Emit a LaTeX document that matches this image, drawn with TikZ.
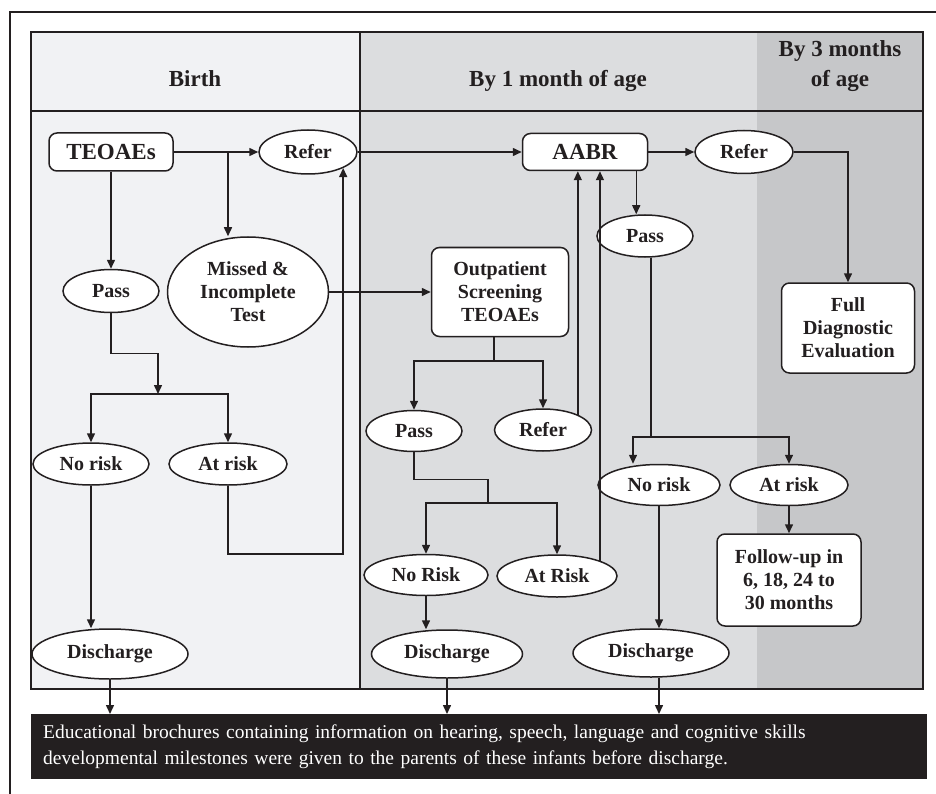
\documentclass[tikz,border=0pt]{standalone}
\usepackage{fontspec}
\setmainfont{Liberation Serif}
\usetikzlibrary{arrows.meta}
\usetikzlibrary{shapes}
\usetikzlibrary{positioning}

\definecolor{ink}{RGB}{35,31,32}
\definecolor{birthgray}{RGB}{241,242,244}
\definecolor{monthgray}{RGB}{220,221,223}
\definecolor{threegray}{RGB}{198,199,201}

\begin{document}
\begin{tikzpicture}[x=1pt,y=-1pt,
        every node/.style={font=\fontsize{20}{23}\selectfont\bfseries,text=ink,align=center,inner sep=0pt},
        oval/.style={draw=ink,fill=white,ellipse,line width=1.5pt},
        box/.style={draw=ink,fill=white,rounded corners=8pt,line width=1.5pt},
        head/.style={font=\fontsize{23}{30}\selectfont\bfseries},
        link/.style={draw=ink,line width=1.5pt,-{Triangle[length=9pt,width=8pt]}},
        wire/.style={draw=ink,line width=1.5pt},
        rule/.style={draw=ink,line width=1.1pt}]

    \useasboundingbox (0,0) rectangle (936,794);

    % columns
    \fill[birthgray] (31,32) rectangle (360,689);
    \fill[monthgray] (360,32) rectangle (757,689);
    \fill[threegray] (757,32) rectangle (923,689);
    \draw[rule] (31,32) rectangle (923,689);
    \draw[rule] (31,111) -- (923,111);
    \draw[rule] (360,32) -- (360,689);
    \draw[ink,line width=1.8pt] (10,794) -- (10,12) -- (936,12);

    \node[head,anchor=base] (birth) at (195,87) {Birth};
    \node[head,anchor=base] (month1) at (558,87) {By 1 month of age};
    \node[head] (month3) at (840,66) {By 3 months\\of age};

    % birth
    \node[box,head,minimum width=124pt,minimum height=38pt] (teoae) at (111,152) {TEOAEs};
    \node[oval,minimum width=98pt,minimum height=44pt] (refA) at (308,152) {Refer};
    \node[oval,minimum width=96pt,minimum height=43pt] (passA) at (111,291) {Pass};
    \node[oval,minimum width=161pt,minimum height=110pt] (missed) at (248,292) {Missed \&\\Incomplete\\Test};
    \node[oval,minimum width=116pt,minimum height=42pt] (norA) at (91,464) {No risk};
    \node[oval,minimum width=118pt,minimum height=42pt] (atrA) at (228,464) {At risk};
    \node[oval,minimum width=156pt,minimum height=50pt] (disA) at (110,654) {Discharge};

    % by 1 month
    \node[box,minimum width=137pt,minimum height=89pt] (outp) at (500,292) {Outpatient\\Screening\\TEOAEs};
    \node[oval,minimum width=96pt,minimum height=41pt] (passB) at (414,431) {Pass};
    \node[oval,minimum width=97pt,minimum height=42pt] (refB) at (543,430) {Refer};
    \node[oval,minimum width=124pt,minimum height=41pt] (norB) at (426,575) {No Risk};
    \node[oval,minimum width=120pt,minimum height=42pt] (atrB) at (557,576) {At Risk};
    \node[oval,minimum width=151pt,minimum height=48pt] (disB) at (447,654) {Discharge};

    \node[box,head,minimum width=125pt,minimum height=37pt] (aabr) at (585,152) {AABR};
    \node[oval,minimum width=98pt,minimum height=43pt] (refC) at (744,152) {Refer};
    \node[oval,minimum width=96pt,minimum height=42pt] (passC) at (645,236) {Pass};
    \node[oval,minimum width=122pt,minimum height=41pt] (norC) at (659,485) {No risk};
    \node[oval,minimum width=118pt,minimum height=41pt] (atrC) at (789,485) {At risk};
    \node[oval,minimum width=156pt,minimum height=48pt] (disC) at (651,653) {Discharge};

    % by 3 months
    \node[box,minimum width=133pt,minimum height=90pt] (fulldx) at (848,328) {Full\\Diagnostic\\Evaluation};
    \node[box,minimum width=144pt,minimum height=92pt] (follow) at (789,580) {Follow-up in\\6, 18, 24 to\\30 months};

    \node[fill=ink,text=white,anchor=north west,minimum width=896pt,minimum height=65pt,
          text width=872pt,align=left,font=\fontsize{19.5}{26}\selectfont] (info) at (31,714)
          {Educational brochures containing information on hearing, speech, language and cognitive skills\\
           developmental milestones were given to the parents of these infants before discharge.};

    \coordinate (tapA) at (228,152);
    \coordinate (splitA) at (158,394);
    \coordinate (splitB) at (494,361);
    \coordinate (joinD) at (488,503);
    \coordinate (splitC) at (651,437);

    \draw[link] (teoae.east) -- (refA.west);
    \draw[link] (tapA) -- (tapA |- missed.north);
    \draw[link] (teoae.south) -- (passA.north);
    \draw[link] (passA.south) -- ++(0,40) -| (splitA);
    \draw[link] (splitA) -| (norA.north);
    \draw[link] (splitA) -| (atrA.north);
    \draw[link] (norA.south) -- (norA.south |- disA.north);
    \draw[link] (atrA.south) -- ++(0,68) -| (refA.south east);
    \draw[link] (missed.east) -- (outp.west);

    \draw[wire] (splitB |- outp.south) -- (splitB);
    \draw[link] (splitB) -| (passB.north);
    \draw[link] (splitB) -| (refB.north);
    \draw[link] (refB.north east) -- (refB.north east |- aabr.south);
    \draw[wire] (passB.south) -- ++(0,27) -| (joinD);
    \draw[link] (joinD) -| (norB.north);
    \draw[link] (joinD) -| (atrB.north);
    \draw[link] (atrB.north east) -- (atrB.north east |- aabr.south);
    \draw[link] (norB.south) -- (norB.south |- disB.north);

    \draw[link] (refA.east) -- (aabr.west);
    \draw[link] (aabr.east) -- (refC.west);
    \draw[link] (refC.east) -| (fulldx.north);
    \draw[link] ([xshift=-12pt]aabr.south east) -- ([xshift=-12pt]aabr.south east |- passC.north);
    \draw[wire] (splitC |- passC.south) -- (splitC);
    \draw[link] (splitC) -| ([xshift=-26pt]norC.north);
    \draw[link] (splitC) -| (atrC.north);
    \draw[link] (atrC.south) -- (follow.north);
    \draw[link] (norC.south) -- (norC.south |- disC.north);

    \draw[link] (disA.south) -- (disA.south |- info.north);
    \draw[link] (disB.south) -- (disB.south |- info.north);
    \draw[link] (norC.south |- disC.south) -- (norC.south |- info.north);
\end{tikzpicture}
\end{document}
